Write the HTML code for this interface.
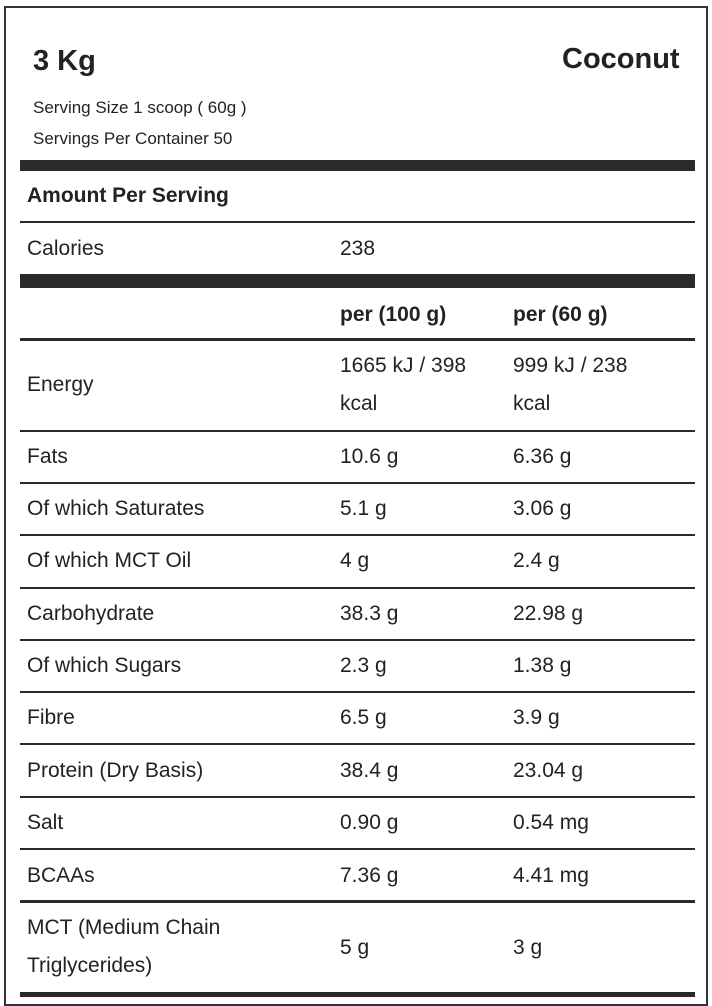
<!DOCTYPE html>
<html><head><style>
body{margin:0;width:712px;height:999px;background:#fff;position:relative;font-family:"Liberation Sans",sans-serif;color:#222;overflow:hidden}
.b{position:absolute;left:4px;top:6px;width:704px;height:1000px;border:2px solid #333;box-sizing:border-box}
.t{position:absolute;white-space:nowrap;font-size:21px;line-height:38px}
.h{position:absolute;left:20px;width:675px;background:#2a2a2a}
.bold{font-weight:bold}
</style></head><body>
<div class="b"></div>
<div class="t bold" style="left:33px;top:42px;font-size:29px">3 Kg</div>
<div class="t bold" style="left:562px;top:40px;font-size:29px">Coconut</div>
<div class="t" style="left:33px;top:89px;font-size:17px">Serving Size 1 scoop ( 60g )</div>
<div class="t" style="left:33px;top:120px;font-size:17px">Servings Per Container 50</div>
<div class="h" style="top:160px;height:11px"></div>
<div class="t bold" style="left:27px;top:177px;font-size:21px">Amount Per Serving</div>
<div class="h" style="top:221px;height:2px"></div>
<div class="t" style="left:27px;top:230px">Calories</div>
<div class="t" style="left:340px;top:230px">238</div>
<div class="h" style="top:274px;height:14px"></div>
<div class="t bold" style="left:340px;top:296px">per (100 g)</div>
<div class="t bold" style="left:513px;top:296px">per (60 g)</div>
<div class="h" style="top:338px;height:3px"></div>
<div class="t" style="left:27px;top:366px">Energy</div>
<div class="t" style="left:340px;top:347px">1665 kJ / 398</div>
<div class="t" style="left:340px;top:385px">kcal</div>
<div class="t" style="left:513px;top:347px">999 kJ / 238</div>
<div class="t" style="left:513px;top:385px">kcal</div>
<div class="h" style="top:430px;height:2px"></div>
<div class="t" style="left:27px;top:438px">Fats</div><div class="t" style="left:340px;top:438px">10.6 g</div><div class="t" style="left:513px;top:438px">6.36 g</div>
<div class="h" style="top:482px;height:2px"></div>
<div class="t" style="left:27px;top:490px">Of which Saturates</div><div class="t" style="left:340px;top:490px">5.1 g</div><div class="t" style="left:513px;top:490px">3.06 g</div>
<div class="h" style="top:534px;height:2px"></div>
<div class="t" style="left:27px;top:542px">Of which MCT Oil</div><div class="t" style="left:340px;top:542px">4 g</div><div class="t" style="left:513px;top:542px">2.4 g</div>
<div class="h" style="top:587px;height:2px"></div>
<div class="t" style="left:27px;top:595px">Carbohydrate</div><div class="t" style="left:340px;top:595px">38.3 g</div><div class="t" style="left:513px;top:595px">22.98 g</div>
<div class="h" style="top:639px;height:2px"></div>
<div class="t" style="left:27px;top:647px">Of which Sugars</div><div class="t" style="left:340px;top:647px">2.3 g</div><div class="t" style="left:513px;top:647px">1.38 g</div>
<div class="h" style="top:691px;height:2px"></div>
<div class="t" style="left:27px;top:699px">Fibre</div><div class="t" style="left:340px;top:699px">6.5 g</div><div class="t" style="left:513px;top:699px">3.9 g</div>
<div class="h" style="top:743px;height:2px"></div>
<div class="t" style="left:27px;top:752px">Protein (Dry Basis)</div><div class="t" style="left:340px;top:752px">38.4 g</div><div class="t" style="left:513px;top:752px">23.04 g</div>
<div class="h" style="top:796px;height:2px"></div>
<div class="t" style="left:27px;top:804px">Salt</div><div class="t" style="left:340px;top:804px">0.90 g</div><div class="t" style="left:513px;top:804px">0.54 mg</div>
<div class="h" style="top:848px;height:2px"></div>
<div class="t" style="left:27px;top:857px">BCAAs</div><div class="t" style="left:340px;top:857px">7.36 g</div><div class="t" style="left:513px;top:857px">4.41 mg</div>
<div class="h" style="top:900px;height:3px"></div>
<div class="t" style="left:27px;top:909px">MCT (Medium Chain</div>
<div class="t" style="left:27px;top:947px">Triglycerides)</div>
<div class="t" style="left:340px;top:929px">5 g</div><div class="t" style="left:513px;top:929px">3 g</div>
<div class="h" style="top:992px;height:5px"></div>
</body></html>
